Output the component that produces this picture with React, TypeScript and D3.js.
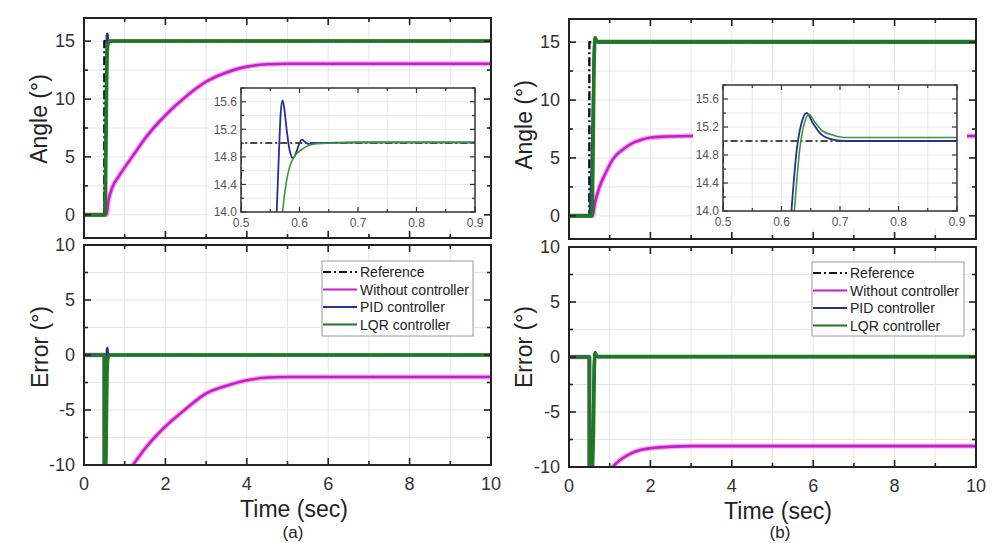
import React from "react";
import * as d3 from "d3";

type P = [number, number];

// ---------- DATA ----------
const timeTickLabels = [0, 2, 4, 6, 8, 10];
const angleTickLabels = [0, 5, 10, 15];
const errorTickLabels = [-10, -5, 0, 5, 10];
const insetXTickLabels = [0.5, 0.6, 0.7, 0.8, 0.9];
const insetYTickLabels = [14.0, 14.4, 14.8, 15.2, 15.6];
const legendLabels = ["Reference", "Without controller", "PID controller", "LQR controller"];

const refAngle: P[] = [[0, 0], [0.5, 0], [0.5001, 15], [10, 15]];

// Panel (a)
const angleA_none: P[] = [[0, 0], [0.55, 0], [0.6, 1.2], [0.7, 2.4], [0.85, 3.3], [1.0, 4.1], [1.2, 5.1], [1.5, 6.6], [2.0, 8.6], [2.5, 10.2], [3.0, 11.5], [3.5, 12.3], [4.0, 12.8], [4.5, 13.0], [5, 13.05], [10, 13.05]];
const angleA_pid: P[] = [[0, 0], [0.5, 0], [0.53, 5], [0.55, 11], [0.556, 13.5], [0.561, 14.0], [0.565, 14.9], [0.568, 15.45], [0.571, 15.62], [0.574, 15.5], [0.578, 15.2], [0.583, 14.9], [0.589, 14.78], [0.595, 14.88], [0.6, 15.0], [0.604, 15.05], [0.609, 15.02], [0.615, 14.99], [0.63, 15.0], [0.7, 15.01], [10, 15.01]];
const angleA_lqr: P[] = [[0, 0], [0.52, 0], [0.54, 6], [0.555, 11], [0.565, 13.3], [0.571, 14.0], [0.578, 14.46], [0.589, 14.78], [0.606, 14.92], [0.629, 14.99], [0.657, 15.0], [0.7, 15.01], [10, 15.01]];
const errorA_none: P[] = [[0, 0], [0.5, 0], [0.501, -15], [0.55, -15], [0.7, -12.6], [1.0, -10.9], [1.2, -10.0], [1.5, -8.5], [2.0, -6.5], [2.5, -4.9], [3.0, -3.5], [3.5, -2.8], [4.0, -2.3], [4.5, -2.05], [5, -2.0], [10, -2.0]];
const errorA_pid: P[] = [[0, 0], [0.5, 0], [0.501, -15], [0.55, -4], [0.561, -1.0], [0.571, 0.62], [0.578, 0.2], [0.589, -0.22], [0.604, 0.05], [0.615, -0.01], [0.7, 0.01], [10, 0.01]];
const errorA_lqr: P[] = [[0, 0], [0.5, 0], [0.501, -15], [0.54, -9], [0.565, -1.7], [0.578, -0.54], [0.606, -0.08], [0.657, 0], [10, 0]];

// Panel (b)
const angleB_none: P[] = [[0, 0], [0.58, 0], [0.63, 1.0], [0.75, 2.5], [0.9, 3.7], [1.08, 4.9], [1.35, 5.8], [1.57, 6.3], [1.8, 6.6], [1.98, 6.75], [2.4, 6.85], [3, 6.9], [10, 6.9]];
const angleB_pid: P[] = [[0, 0], [0.5, 0], [0.56, 4], [0.6, 11], [0.612, 13.4], [0.617, 14.0], [0.626, 14.87], [0.634, 15.25], [0.643, 15.4], [0.654, 15.25], [0.666, 15.11], [0.688, 15.02], [0.711, 15.0], [10, 15.0]];
const angleB_lqr: P[] = [[0, 0], [0.56, 0], [0.6, 8], [0.615, 13.2], [0.622, 14.0], [0.631, 14.87], [0.638, 15.22], [0.647, 15.38], [0.657, 15.27], [0.669, 15.15], [0.69, 15.08], [0.71, 15.05], [0.8, 15.05], [10, 15.05]];
const errorB_none: P[] = [[0, 0], [0.5, 0], [0.501, -15], [0.62, -14.2], [0.9, -11.3], [1.08, -10], [1.3, -9.25], [1.5, -8.8], [1.75, -8.45], [2.0, -8.3], [2.5, -8.15], [3, -8.1], [10, -8.1]];
const errorB_pid: P[] = [[0, 0], [0.5, 0], [0.501, -15], [0.6, -4], [0.617, -1.0], [0.634, 0.25], [0.643, 0.4], [0.666, 0.11], [0.711, 0], [10, 0]];
const errorB_lqr: P[] = [[0, 0], [0.5, 0], [0.501, -15], [0.6, -7], [0.622, -1.0], [0.638, 0.22], [0.647, 0.38], [0.669, 0.15], [0.71, 0.05], [10, 0.05]];

// ---------- STYLE ----------
const FONT = "'Liberation Sans', Arial, Helvetica, sans-serif";
const C_REF = "#111";
const C_NONE = "#c81ec8";
const C_NONE_HALO = "#f3a6f3";
const C_PID = "#26309a";
const C_LQR = "#1f7a1f";
const C_LQR_IN = "#3a983a";
const GRID = "#e4e4e4";

const rng = (a: number, b: number, s: number) =>
  d3.range(a, b + s / 2, s).map((v) => +v.toFixed(6));

type Series = { data: P[]; color: string; width: number; dash?: string; halo?: string; haloWidth?: number; linear?: boolean };

function Lines({ series, xs, ys, clipId }: any) {
  return (
    <g clipPath={`url(#${clipId})`}>
      {series.map((s: Series, i: number) => {
        const gen = d3
          .line<P>()
          .x((d) => xs(d[0]))
          .y((d) => ys(d[1]))
          .curve(s.linear ? d3.curveLinear : d3.curveMonotoneX);
        const dd = gen(s.data) || "";
        return (
          <g key={i}>
            {s.halo && <path d={dd} fill="none" stroke={s.halo} strokeWidth={s.haloWidth} strokeLinejoin="round" />}
            <path d={dd} fill="none" stroke={s.color} strokeWidth={s.width} strokeDasharray={s.dash} strokeLinejoin="round" />
          </g>
        );
      })}
    </g>
  );
}

function Grid({ xs, ys, xv, yv, color, w }: any) {
  const [x0, x1] = xs.range();
  const [yb, yt] = ys.range();
  return (
    <g>
      {xv.map((v: number, i: number) => (
        <line key={"gx" + i} x1={xs(v)} x2={xs(v)} y1={yb} y2={yt} stroke={color} strokeWidth={w} />
      ))}
      {yv.map((v: number, i: number) => (
        <line key={"gy" + i} x1={x0} x2={x1} y1={ys(v)} y2={ys(v)} stroke={color} strokeWidth={w} />
      ))}
    </g>
  );
}

function Frame({ xs, ys, xMaj, xAll, yMaj, yAll, majLen, minLen, sw, color }: any) {
  const [x0, x1] = xs.range();
  const [yb, yt] = ys.range();
  const els: any[] = [];
  xAll.forEach((v: number, i: number) => {
    const L = xMaj.some((m: number) => Math.abs(m - v) < 1e-6) ? majLen : minLen;
    const x = xs(v);
    els.push(<line key={"xb" + i} x1={x} x2={x} y1={yb} y2={yb - L} stroke={color} strokeWidth={sw * 0.8} />);
    els.push(<line key={"xt" + i} x1={x} x2={x} y1={yt} y2={yt + L} stroke={color} strokeWidth={sw * 0.8} />);
  });
  yAll.forEach((v: number, i: number) => {
    const L = yMaj.some((m: number) => Math.abs(m - v) < 1e-6) ? majLen : minLen;
    const y = ys(v);
    els.push(<line key={"yl" + i} x1={x0} x2={x0 + L} y1={y} y2={y} stroke={color} strokeWidth={sw * 0.8} />);
    els.push(<line key={"yr" + i} x1={x1} x2={x1 - L} y1={y} y2={y} stroke={color} strokeWidth={sw * 0.8} />);
  });
  return (
    <g>
      {els}
      <rect x={x0} y={yt} width={x1 - x0} height={yb - yt} fill="none" stroke={color} strokeWidth={sw} />
    </g>
  );
}

function Panel({ L, id, angle, error, tag }: any) {
  const xs = d3.scaleLinear().domain([0, 10]).range([L.x0, L.x1]);
  const yT = d3.scaleLinear().domain([-2, 17]).range([L.tY1, L.tY0]);
  const yB = d3.scaleLinear().domain([-10, 10]).range([L.bY1, L.bY0]);
  const ix = d3.scaleLinear().domain([0.5, 0.9]).range([L.ix0, L.ix1]);
  const iy = d3.scaleLinear().domain([14, 15.8]).range([L.iy1, L.iy0]);

  const mk = (none: P[], pid: P[], lqr: P[], withRef: boolean): Series[] => {
    const s: Series[] = [];
    if (withRef) s.push({ data: refAngle, color: C_REF, width: 2.4, dash: "9,3,2,3", linear: true });
    s.push({ data: none, color: C_NONE, width: 2.6, halo: C_NONE_HALO, haloWidth: 5 });
    s.push({ data: pid, color: C_PID, width: 3 });
    s.push({ data: lqr, color: C_LQR, width: 3.6 });
    return s;
  };
  const inset: Series[] = [
    { data: refAngle, color: C_REF, width: 1.5, dash: "7,3,2,3", linear: true },
    { data: angle.none, color: C_NONE, width: 1.5 },
    { data: angle.pid, color: C_PID, width: 1.8 },
    { data: angle.lqr, color: C_LQR_IN, width: 1.6 },
  ];
  const legendColors = [C_REF, C_NONE, C_PID, C_LQR];

  const tickTxt = { fontFamily: FONT, fontSize: 18, fill: "#333" };
  const titleTxt = { fontFamily: FONT, fontSize: 23, fill: "#222" };

  return (
    <g>
      <defs>
        <clipPath id={id + "ct"}><rect x={L.x0} y={L.tY0} width={L.x1 - L.x0} height={L.tY1 - L.tY0} /></clipPath>
        <clipPath id={id + "cb"}><rect x={L.x0} y={L.bY0} width={L.x1 - L.x0} height={L.bY1 - L.bY0} /></clipPath>
        <clipPath id={id + "ci"}><rect x={L.ix0} y={L.iy0} width={L.ix1 - L.ix0} height={L.iy1 - L.iy0} /></clipPath>
      </defs>

      {/* top plot */}
      <Grid xs={xs} ys={yT} xv={rng(1, 9, 1)} yv={rng(-0, 15, 2.5)} color={GRID} w={0.9} />
      <Lines series={mk(angle.none, angle.pid, angle.lqr, true)} xs={xs} ys={yT} clipId={id + "ct"} />
      <Frame xs={xs} ys={yT} xMaj={rng(0, 10, 2)} xAll={rng(0, 10, 1)} yMaj={angleTickLabels} yAll={rng(0, 15, 2.5)} majLen={7} minLen={4} sw={2} color="#222" />
      {angleTickLabels.map((v) => (
        <text key={"ay" + v} x={L.x0 - 9} y={yT(v)} dy="0.35em" textAnchor="end" {...tickTxt}>{v}</text>
      ))}

      {/* bottom plot */}
      <Grid xs={xs} ys={yB} xv={rng(1, 9, 1)} yv={rng(-7.5, 7.5, 2.5)} color={GRID} w={0.9} />
      <Lines series={mk(error.none, error.pid, error.lqr, false)} xs={xs} ys={yB} clipId={id + "cb"} />
      <Frame xs={xs} ys={yB} xMaj={rng(0, 10, 2)} xAll={rng(0, 10, 1)} yMaj={errorTickLabels} yAll={rng(-10, 10, 2.5)} majLen={7} minLen={4} sw={2} color="#222" />
      {errorTickLabels.map((v) => (
        <text key={"ey" + v} x={L.x0 - 9} y={yB(v)} dy="0.35em" textAnchor="end" {...tickTxt}>{v}</text>
      ))}
      {timeTickLabels.map((v) => (
        <text key={"tx" + v} x={xs(v)} y={L.bY1 + 25} textAnchor="middle" {...tickTxt}>{v}</text>
      ))}

      {/* legend */}
      <rect x={L.lgX} y={L.lgY} width={L.lgW} height={L.lgH} fill="#fff" stroke="#9a9a9a" strokeWidth={1} />
      {legendLabels.map((lab, i) => {
        const y = L.lgY + 11 + i * 17.5;
        return (
          <g key={lab}>
            <line x1={L.lgX + 1} x2={L.lgX + 35} y1={y} y2={y} stroke={legendColors[i]} strokeWidth={i === 0 ? 2 : 1.8} strokeDasharray={i === 0 ? "8,3,2,3" : undefined} />
            <text x={L.lgX + 38} y={y} dy="0.36em" fontFamily={FONT} fontSize={14} fill="#222">{lab}</text>
          </g>
        );
      })}

      {/* inset */}
      <rect x={L.wb[0]} y={L.wb[1]} width={L.wb[2]} height={L.wb[3]} fill="#fff" />
      <Grid xs={ix} ys={iy} xv={rng(0.55, 0.85, 0.05)} yv={rng(14.2, 15.6, 0.2)} color={GRID} w={0.8} />
      <Lines series={inset} xs={ix} ys={iy} clipId={id + "ci"} />
      <Frame xs={ix} ys={iy} xMaj={insetXTickLabels} xAll={rng(0.5, 0.9, 0.05)} yMaj={insetYTickLabels} yAll={rng(14, 15.8, 0.2)} majLen={5} minLen={3} sw={1.5} color="#333" />
      {insetYTickLabels.map((v) => (
        <text key={"iy" + v} x={L.ix0 - 4} y={iy(v)} dy="0.35em" textAnchor="end" fontFamily={FONT} fontSize={12} fill="#555">{v.toFixed(1)}</text>
      ))}
      {insetXTickLabels.map((v) => (
        <text key={"ix" + v} x={ix(v)} y={L.iy1 + 15} textAnchor="middle" fontFamily={FONT} fontSize={12} fill="#555">{v.toFixed(1)}</text>
      ))}

      {/* titles */}
      <text transform={`translate(${L.ayX},${L.ayY}) rotate(-90)`} textAnchor="middle" {...titleTxt}>Angle (°)</text>
      <text transform={`translate(${L.eyX},${L.eyY}) rotate(-90)`} textAnchor="middle" {...titleTxt}>Error (°)</text>
      <text x={L.txX} y={L.txY} textAnchor="middle" {...titleTxt}>Time (sec)</text>
      <text x={L.tagX} y={538} textAnchor="middle" fontFamily={FONT} fontSize={17} fill="#222">{tag}</text>
    </g>
  );
}

const layoutA = {
  x0: 84, x1: 491, tY0: 18, tY1: 238, bY0: 245, bY1: 465,
  ix0: 241, ix1: 475, iy0: 88, iy1: 212, wb: [210, 86, 274, 144],
  lgX: 322, lgY: 261, lgW: 151, lgH: 75,
  ayX: 47, ayY: 119, eyX: 48, eyY: 347, txX: 294, txY: 517, tagX: 293,
};
const layoutB = {
  x0: 569, x1: 976, tY0: 19, tY1: 239, bY0: 247, bY1: 467,
  ix0: 723, ix1: 957, iy0: 85, iy1: 211, wb: [693, 82, 274, 146],
  lgX: 812, lgY: 262, lgW: 152, lgH: 74,
  ayX: 532, ayY: 125, eyX: 532, eyY: 347, txX: 778, txY: 519, tagX: 780,
};

export default function App() {
  return (
    <svg width={995} height={543} style={{ position: "absolute", left: 0, top: 0, background: "#fff" }}>
      <rect x={0} y={0} width={995} height={543} fill="#fff" />
      <Panel L={layoutA} id="pa" tag="(a)"
        angle={{ none: angleA_none, pid: angleA_pid, lqr: angleA_lqr }}
        error={{ none: errorA_none, pid: errorA_pid, lqr: errorA_lqr }} />
      <Panel L={layoutB} id="pb" tag="(b)"
        angle={{ none: angleB_none, pid: angleB_pid, lqr: angleB_lqr }}
        error={{ none: errorB_none, pid: errorB_pid, lqr: errorB_lqr }} />
    </svg>
  );
}
